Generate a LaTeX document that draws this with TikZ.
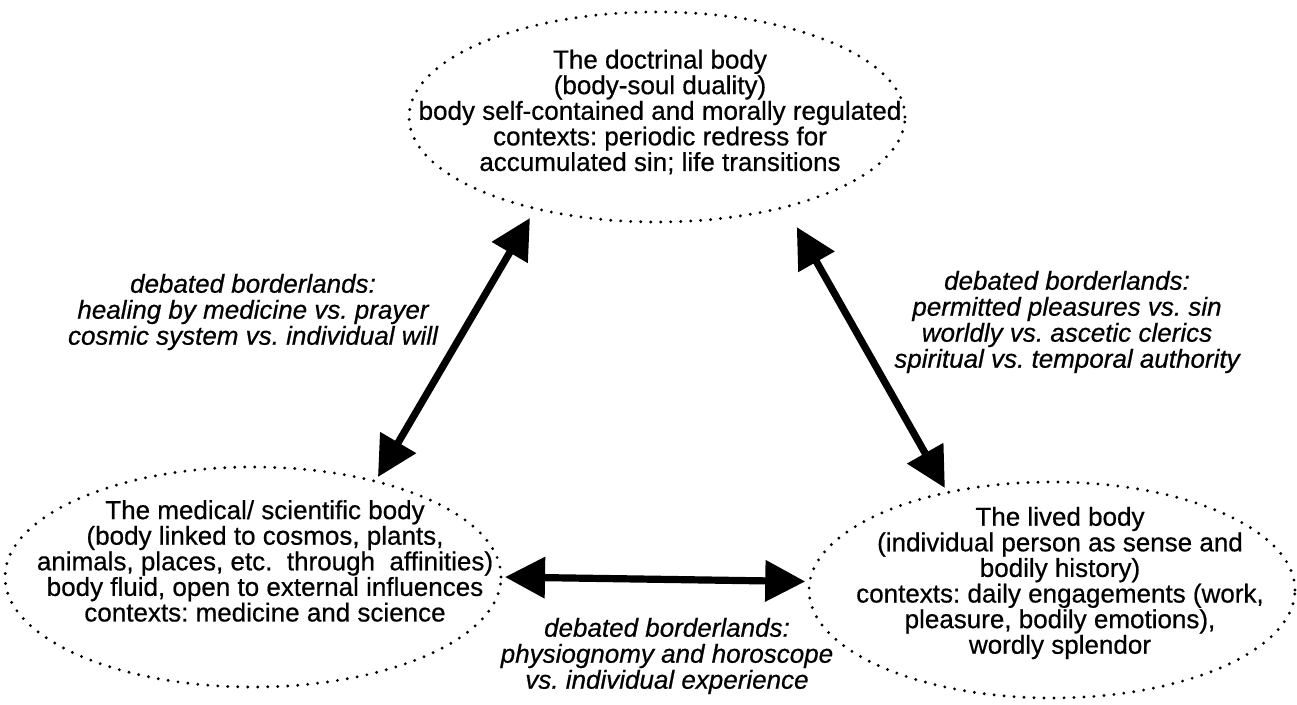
\documentclass[tikz,border=0pt]{standalone}
\usepackage{fontspec}
\setmainfont[FakeBold=0.6,AutoFakeBold=0.6]{Liberation Sans}
\usetikzlibrary{shapes.geometric,arrows.meta}
\frenchspacing
\begin{document}
\begin{tikzpicture}[x=0.5pt,y=-0.5pt,
  body/.style={ellipse, draw, line width=1.6pt, dash pattern=on 0pt off 5pt, line cap=round, inner sep=0pt, outer sep=0pt},
  bodytext/.style={align=center, font=\fontsize{13}{12.8}\selectfont, inner sep=0pt},
  debate/.style={align=center, font=\fontsize{13}{13}\selectfont\itshape, inner sep=0pt},
  biarrow/.style={line width=3.6pt, {Triangle[length=20pt,width=20pt]}-{Triangle[length=20pt,width=20pt]}}]
\useasboundingbox (0,0) rectangle (1297,705);
% ellipses
\node[body, minimum width=248pt, minimum height=105pt] (doc) at (657,117) {};
\node[body, minimum width=248pt, minimum height=110pt] (med) at (253,577) {};
\node[body, minimum width=243pt, minimum height=108pt] (lived) at (1052,590) {};
% texts
\node[bodytext] (doctxt) at (660,112) {The doctrinal body\\(body-soul duality)\\body self-contained and morally regulated\\contexts: periodic redress for\\accumulated sin; life transitions};
\node[bodytext] (medtxt) at (265,561) {The medical/ scientific body\\(body linked to cosmos, plants,\\animals, places, etc.\ \ through\ \ affinities)\\body fluid, open to external influences\\contexts: medicine and science};
\node[bodytext] (livedtxt) at (1060,583) {The lived body\\(individual person as sense and\\bodily history)\\contexts: daily engagements (work,\\pleasure, bodily emotions),\\wordly splendor};
% labels
\node[debate] (lab1) at (253,312) {debated borderlands:\\healing by medicine vs. prayer\\cosmic system vs. individual will};
\node[debate] (lab2) at (1067,322) {debated borderlands:\\permitted pleasures vs. sin\\worldly vs. ascetic clerics\\spiritual vs. temporal authority};
\node[debate] (lab3) at (667,656) {debated borderlands:\\physiognomy and horoscope\\vs. individual experience};
% connectors
\draw[biarrow, shorten <=5.5pt, shorten >=2.5pt] (doc.217) -- (med.38);
\draw[biarrow, shorten <=11.6pt, shorten >=2.6pt] (doc.325.1) -- (lived.137);
\draw[biarrow, shorten <=2pt, shorten >=2.25pt] (med.-0.5) -- (lived.178.3);
\end{tikzpicture}
\end{document}
